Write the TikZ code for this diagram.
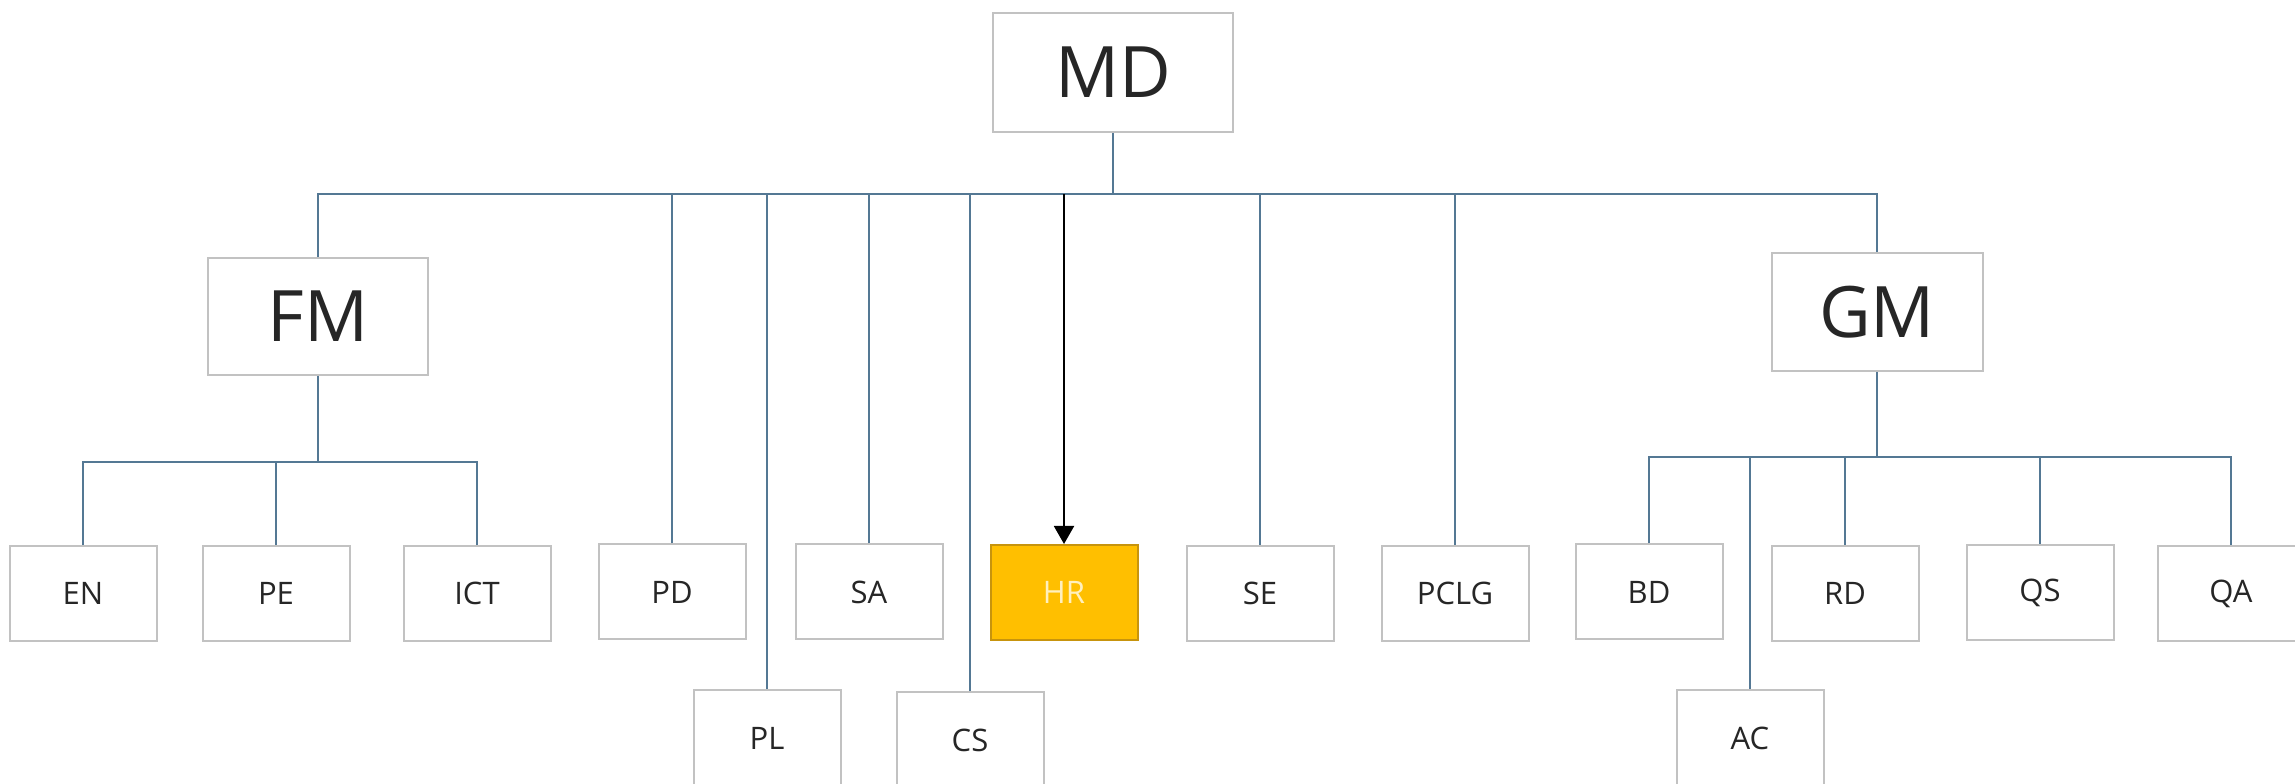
\documentclass[tikz,border=0pt]{standalone}
\usepackage{fontspec}
\setmainfont{Open Sans}
\usetikzlibrary{arrows.meta}

\begin{document}
\begin{tikzpicture}[x=1pt,y=1pt,
  unit/.style={draw=boxColor,line width=2pt,fill=white,inner sep=0pt,
    minimum width=147pt,minimum height=95pt,text=labelColor,
    font=\fontsize{31}{36}\selectfont},
  head/.style={unit,minimum width=220pt,minimum height=117pt,
    font=\fontsize{71}{80}\selectfont},
  link/.style={draw=linkColor,line width=2pt},
  pointer/.style={draw=black,line width=2pt,-{Triangle[length=18pt,width=20pt]}}]
\definecolor{boxColor}{rgb}{0.76,0.76,0.76}
\definecolor{labelColor}{rgb}{0.15,0.15,0.15}
\definecolor{linkColor}{rgb}{0.33,0.47,0.58}
\definecolor{hrFill}{rgb}{1.00,0.75,0.00}
\definecolor{hrEdge}{rgb}{0.78,0.58,0.05}
\definecolor{hrText}{rgb}{1.00,0.94,0.75}
\path[use as bounding box,fill=white] (0,0) rectangle (2295,784);

% top and second level
\node[head,minimum width=240pt,minimum height=119pt] (MD) at (1113,711.5) {MD};
\node[head] (FM) at (318,467.5) {FM};
\node[head,minimum width=211pt,minimum height=118pt] (GM) at (1877,472) {GM};

% units
\node[unit] (EN) at (83,190.5) {EN};
\node[unit] (PE) at (276,190.5) {PE};
\node[unit] (ICT) at (477,190.5) {ICT};
\node[unit] (PD) at (672,192) {PD};
\node[unit] (SA) at (869,192) {SA};
\node[unit,fill=hrFill,draw=hrEdge,text=hrText] (HR) at (1064,191.5) {HR};
\node[unit] (SE) at (1260,190.5) {SE};
\node[unit] (PCLG) at (1455,190.5) {PCLG};
\node[unit] (BD) at (1649,192) {BD};
\node[unit] (RD) at (1845,190.5) {RD};
\node[unit] (QS) at (2040,191.5) {QS};
\node[unit] (QA) at (2231,190.5) {QA};
\node[unit,minimum height=96pt] (PL) at (767,46) {PL};
\node[unit,minimum height=96pt] (CS) at (970,44) {CS};
\node[unit,minimum height=96pt] (AC) at (1750,46) {AC};

% bus points
\coordinate (mdbus) at (1113,590);
\coordinate (fmbus) at (318,322);
\coordinate (gmbus) at (1877,327);

% MD branch
\draw[link] (MD.south) -- (mdbus);
\draw[link] (FM.north) |- (mdbus) -| (GM.north);
\draw[link] (PD.north) -- (PD.north |- mdbus);
\draw[link] (PL.north) -- (PL.north |- mdbus);
\draw[link] (SA.north) -- (SA.north |- mdbus);
\draw[link] (CS.north) -- (CS.north |- mdbus);
\draw[link] (SE.north) -- (SE.north |- mdbus);
\draw[link] (PCLG.north) -- (PCLG.north |- mdbus);
\draw[pointer] (HR.north |- mdbus) -- (HR.north);

% FM branch
\draw[link] (FM.south) -- (fmbus);
\draw[link] (EN.north) |- (fmbus) -| (ICT.north);
\draw[link] (PE.north) -- (PE.north |- fmbus);

% GM branch
\draw[link] (GM.south) -- (gmbus);
\draw[link] (BD.north) |- (gmbus) -| (QA.north);
\draw[link] (RD.north) -- (RD.north |- gmbus);
\draw[link] (QS.north) -- (QS.north |- gmbus);
\draw[link] (AC.north) -- (AC.north |- gmbus);
\end{tikzpicture}
\end{document}
